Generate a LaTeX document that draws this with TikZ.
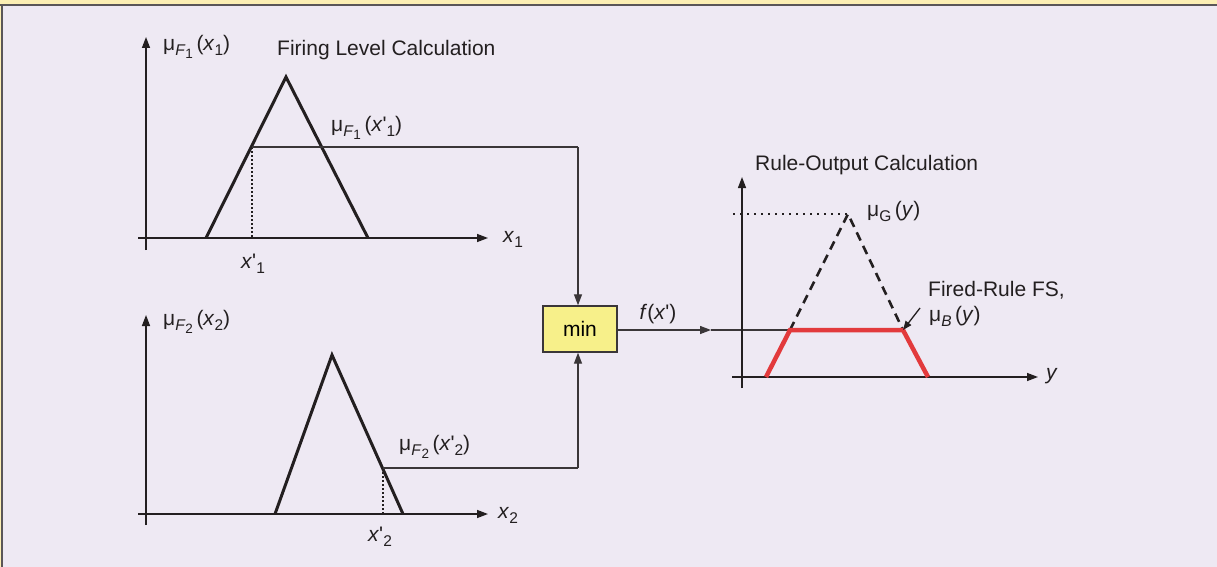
\documentclass[tikz,border=0pt]{standalone}
\usepackage{fontspec}
\setmainfont{Liberation Sans}
\usetikzlibrary{arrows.meta}
\definecolor{bg}{HTML}{EEE9F3}
\definecolor{topband}{HTML}{FCEFB4}
\definecolor{frame}{HTML}{5A5658}
\definecolor{ink}{HTML}{231F20}
\definecolor{conn}{HTML}{3A3638}
\definecolor{minfill}{HTML}{F7F08A}
\definecolor{redline}{HTML}{E23A3C}
\newcommand{\mysub}[1]{\raisebox{-5pt}{\fontsize{15.5}{15.5}\selectfont #1}}
\newcommand{\mysubsub}[1]{\raisebox{-3pt}{\fontsize{13.5}{13.5}\selectfont #1}}
\newcommand{\pr}{\textquotesingle}
\tikzset{
  lbl/.style={inner sep=0pt, font=\fontsize{21}{24}\selectfont, text=ink},
  axis/.style={draw=ink, line width=1.4pt, -{Triangle[length=11pt,width=8pt]}},
  mf/.style={draw=ink, line width=3pt, line join=miter},
  conline/.style={draw=conn, line width=1.3pt},
  conarrow/.style={draw=conn, line width=1.3pt, -{Triangle[length=11pt,width=8pt]}},
  dotv/.style={draw=ink, line width=1.2pt, dash pattern=on 2pt off 2pt},
  minbox/.style={draw=conn, line width=1.4pt, fill=minfill, minimum width=74pt, minimum height=46pt, inner sep=0pt, font=\fontsize{21}{24}\selectfont},
}
\begin{document}
\begin{tikzpicture}[x=1pt,y=-1pt]
\useasboundingbox (0,0) rectangle (1217,567);
\fill[bg] (0,0) rectangle (1217,567);
\fill[topband] (0,0) rectangle (1217,4.5);
\fill[topband] (0,0) rectangle (1.2,567);
\fill[frame] (0,4.5) rectangle (1217,6.5);
\fill[frame] (1.2,4.5) rectangle (3.2,567);

% ---------- Panel 1 ----------
\coordinate (a1o) at (146,250);
\coordinate (a1t) at (146,37);
\coordinate (a1l) at (138,238);
\coordinate (a1r) at (488,238);
\draw[axis] (a1o) -- (a1t);
\draw[axis] (a1l) -- (a1r);
\coordinate (t1a) at (206,238);
\coordinate (t1b) at (286,77);
\coordinate (t1c) at (368,238);
\draw[mf] (t1a) -- (t1b) -- (t1c);
\coordinate (p1) at (252,147);
\coordinate (p1b) at (252,238);
\coordinate (c1) at (578,147);
\draw[dotv] (p1) -- (p1b);
\node[lbl, anchor=west] (l1) at (163,47) {μ\mysub{\textit{F}\mysubsub{1}}\,(\textit{x}\mysub{1})};
\node[lbl, anchor=west] (t1) at (277,50) {Firing Level Calculation};
\node[lbl, anchor=west] (l1p) at (331,128) {μ\mysub{\textit{F}\mysubsub{1}}\,(\textit{x}\pr\mysub{1})};
\node[lbl] (x1p) at (253,264) {\textit{x}\pr\mysub{1}};
\node[lbl, anchor=west] (x1) at (503,239) {\textit{x}\mysub{1}};

% ---------- Panel 2 ----------
\coordinate (a2o) at (146,525);
\coordinate (a2t) at (146,315);
\coordinate (a2l) at (138,514);
\coordinate (a2r) at (488,514);
\draw[axis] (a2o) -- (a2t);
\draw[axis] (a2l) -- (a2r);
\coordinate (t2a) at (275,514);
\coordinate (t2b) at (332,355);
\coordinate (t2c) at (403,514);
\draw[mf] (t2a) -- (t2b) -- (t2c);
\coordinate (p2) at (383,468);
\coordinate (p2b) at (383,514);
\coordinate (c2) at (578,468);
\draw[dotv] (p2) -- (p2b);
\node[lbl, anchor=west] (l2) at (163,322) {μ\mysub{\textit{F}\mysubsub{2}}\,(\textit{x}\mysub{2})};
\node[lbl, anchor=west] (l2p) at (399,447) {μ\mysub{\textit{F}\mysubsub{2}}\,(\textit{x}\pr\mysub{2})};
\node[lbl] (x2p) at (380,537) {\textit{x}\pr\mysub{2}};
\node[lbl, anchor=west] (x2) at (498,515) {\textit{x}\mysub{2}};

% ---------- min box ----------
\node[minbox] (min) at (580,329) {min};
\draw[conline] (p1) -- (c1);
\draw[conarrow] (c1) -- (min.north -| c1);
\draw[conline] (p2) -- (c2);
\draw[conarrow] (c2) -- (min.south -| c2);
\coordinate (fa) at (711,330);
\coordinate (r2) at (790,330);
\draw[conarrow] (min.east |- fa) -- (fa);
\draw[conline] (fa) -- (r2);
\node[lbl] (fx) at (658,314) {\textit{f}(\textit{x}\pr)};

% ---------- Panel 3 ----------
\coordinate (a3o) at (742,388);
\coordinate (a3t) at (742,177);
\coordinate (a3l) at (732,377);
\coordinate (a3r) at (1038,377);
\draw[axis] (a3o) -- (a3t);
\draw[axis] (a3l) -- (a3r);
\coordinate (pk) at (848,214);
\coordinate (d0) at (733,214);
\draw[draw=ink, line width=2pt, dash pattern=on 2pt off 5pt] (d0) -- (pk);
\coordinate (r1) at (766,377);
\coordinate (r3) at (903,330);
\coordinate (r4) at (928,377);
\draw[draw=ink, line width=2.6pt, dash pattern=on 9pt off 6pt] (r2) -- (pk) -- (r3);
\draw[draw=redline, line width=4.5pt, line join=miter] (r1) -- (r2) -- (r3) -- (r4);
\node[lbl, anchor=west] (t3) at (755,165) {Rule-Output Calculation};
\node[lbl, anchor=west] (lg) at (867,211) {μ\mysub{G}\,(\textit{y})};
\node[lbl, anchor=west] (fr) at (928,290) {Fired-Rule FS,};
\node[lbl, anchor=west] (lb) at (929,316) {μ\mysub{\textit{B}}\,(\textit{y})};
\node[lbl, anchor=west] (yl) at (1046,376) {\textit{y}};
\coordinate (sa) at (920,308);
\draw[draw=ink, line width=1.3pt, -{Triangle[length=9pt,width=7pt]}] (sa) -- (r3);
\end{tikzpicture}
\end{document}
